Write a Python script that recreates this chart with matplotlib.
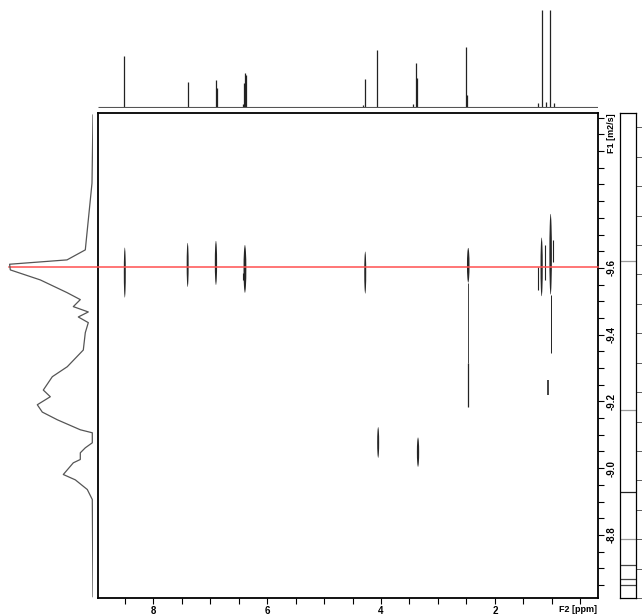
import matplotlib
matplotlib.use('Agg')
import matplotlib.pyplot as plt
import numpy as np
from matplotlib.patches import Ellipse

plt.rcParams['font.family'] = ['Liberation Sans', 'DejaVu Sans']

# 1D proton spectrum on top (ppm, relative height)
peak_ppm = [8.51, 7.395, 6.895, 6.88, 6.43, 6.405, 6.395, 6.38, 4.31, 4.284, 4.062,
            3.43, 3.383, 3.37, 2.506, 2.49, 1.24, 1.173, 1.105, 1.037, 0.97]
peak_h = [0.524, 0.259, 0.276, 0.2, 0.03, 0.25, 0.352, 0.33, 0.02, 0.286, 0.586,
          0.03, 0.448, 0.3, 0.621, 0.12, 0.04, 1.0, 0.05, 1.0, 0.04]

# diffusion projection on the left (log D, intensity)
proj_d = [-10.058, -9.854, -9.654, -9.624, -9.611, -9.594, -9.564, -9.526, -9.505, -9.484,
          -9.468, -9.453, -9.436, -9.406, -9.354, -9.304, -9.274, -9.234, -9.214, -9.190,
          -9.168, -9.145, -9.115, -9.106, -9.076, -9.061, -9.046, -9.026, -9.016, -8.995,
          -8.981, -8.965, -8.936, -8.906, -8.615]
proj_i = [0, 1, 7.7, 26, 83.4, 82.7, 52.7, 26, 12.7, 19.7,
          4.7, 14.7, 4.7, 7.7, 9.7, 25.7, 40.7, 49.7, 42.7, 55.7,
          50.7, 35.7, 12.7, 0.7, 0.7, 7.7, 12.7, 12.7, 19.7, 25.7,
          29.7, 17.7, 5.7, 0.7, 0]

# DOSY cross peaks: ppm, log D centre, log D extent, ppm width
blob_ppm = [8.50, 7.396, 6.899, 6.39, 4.277, 2.468, 1.179, 1.021, 4.05, 3.35]
blob_d = [-9.586, -9.609, -9.615, -9.597, -9.586, -9.608, -9.603, -9.641, -9.077, -9.048]
blob_h = [0.150, 0.132, 0.132, 0.143, 0.126, 0.104, 0.176, 0.242, 0.092, 0.088]
blob_w = [0.035, 0.035, 0.04, 0.05, 0.035, 0.045, 0.04, 0.045, 0.035, 0.04]

# weak streaks: ppm, top, bottom, width
tail_ppm = [2.468, 2.475, 1.24, 1.12, 0.98, 1.021, 1.07, 6.43]
tail_top = [-9.555, -9.316, -9.603, -9.668, -9.685, -9.520, -9.264, -9.586]
tail_bot = [-9.316, -9.184, -9.533, -9.564, -9.619, -9.345, -9.219, -9.564]
tail_lw = [0.6, 0.9, 0.8, 0.8, 0.8, 0.7, 1.2, 0.8]

red_d = -9.6025

# contour level bar
levels = [11.46, 6.39, 3.61, 2.01, 1.12, 0.65, 0.44]
level_col = ['#999999', '#999999', '#222222', '#999999', '#444444', '#444444', '#444444']

W, H = 642, 616
fig = plt.figure(figsize=(6.42, 6.16), dpi=100)


def box(x0, y0, x1, y1):
    return [x0 / W, 1 - y1 / H, (x1 - x0) / W, (y1 - y0) / H]


xlim = (8.976, 0.189)
ylim = (-8.611, -10.065)

ax = fig.add_axes(box(97.7, 112.7, 598, 598))
ax_top = fig.add_axes(box(97.7, 5, 598, 108))
ax_left = fig.add_axes(box(9, 112.7, 93, 598))
ax_lev = fig.add_axes(box(620, 112.7, 636, 598))

# top spectrum
ax_top.vlines(peak_ppm, 0, peak_h, color='#222222', lw=0.9)
ax_top.hlines(0, xlim[0], xlim[1], color='#555555', lw=0.8)
ax_top.set_xlim(xlim)
ax_top.set_ylim(-0.01, 1.05)
ax_top.axis('off')

# left projection
ax_left.plot(proj_i, proj_d, color='#555555', lw=0.9)
ax_left.set_xlim(84, 0)
ax_left.set_ylim(ylim)
ax_left.axis('off')

# 2D
for x, d, h, w in zip(blob_ppm, blob_d, blob_h, blob_w):
    ax.add_patch(Ellipse((x, d), w, h, facecolor='black', edgecolor='none', alpha=0.85))
ax.vlines(tail_ppm, tail_top, tail_bot, color='#222222', lw=tail_lw)

ax.axhline(red_d, xmin=(9 - 97.7) / 500.3, xmax=1, color='#ff5050', lw=1.1,
           clip_on=False, zorder=5)

ax.set_xlim(xlim)
ax.set_ylim(ylim)
ax.set_xticks([8, 6, 4, 2])
ax.set_xticks([m for m in np.arange(0.5, 9, 0.5) if m not in (2, 4, 6, 8)], minor=True)
ax.set_xticklabels(['8', '6', '4', '2'])
ax.yaxis.tick_right()
ax.set_yticks([-9.6, -9.4, -9.2, -9.0, -8.8])
ax.set_yticklabels(['-9.6', '-9.4', '-9.2', '-9.0', '-8.8'])
ax.set_yticks(np.arange(-10.05, -8.62, 0.05), minor=True)
ax.tick_params(which='both', direction='out', length=4, width=0.8, labelsize=7)
ax.tick_params(axis='x', pad=2)
ax.tick_params(axis='y', pad=2, labelrotation=90)
for lbl in ax.get_xticklabels() + ax.get_yticklabels():
    lbl.set_fontweight('bold')
for lbl in ax.get_yticklabels():
    lbl.set_va('center')
for s in ax.spines.values():
    s.set_linewidth(1.3)

fig.text(612 / W, 1 - 133 / H, 'F1 [m2/s]', rotation=90, ha='center', va='center',
         fontsize=6.5, fontweight='bold')
fig.text(597 / W, 1 - 610 / H, 'F2 [ppm]', ha='right', va='center',
         fontsize=6.5, fontweight='bold')

# level bar
ax_lev.hlines(levels, 0, 1, colors=level_col, lw=0.9)
ax_lev.set_xlim(0, 1)
ax_lev.set_ylim(0, 16.5)
ax_lev.set_xticks([])
ax_lev.yaxis.tick_right()
ax_lev.set_yticks(np.arange(0, 17))
ax_lev.set_yticklabels([])
ax_lev.tick_params(direction='out', length=4, width=0.6, color='#444444')
for s in ax_lev.spines.values():
    s.set_linewidth(0.9)

fig.savefig('out.png', dpi=100)
